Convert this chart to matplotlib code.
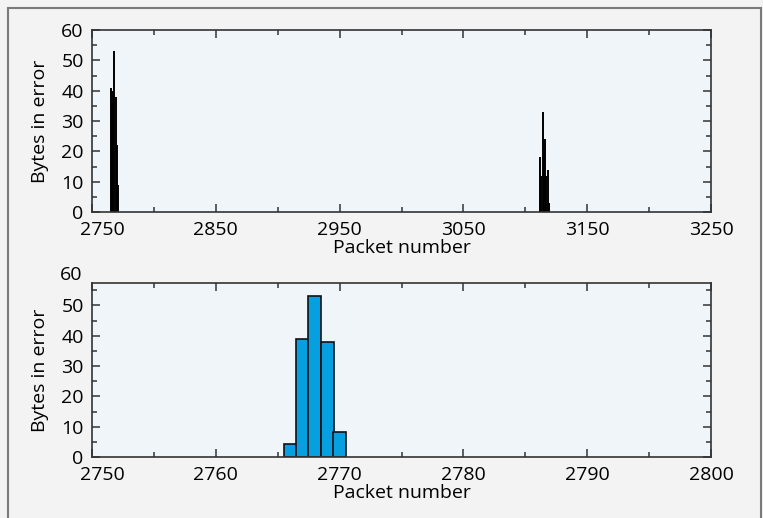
import matplotlib.pyplot as plt
from matplotlib.patches import Rectangle
from matplotlib.ticker import MultipleLocator
import matplotlib.transforms as mtransforms

plt.rcParams['font.family'] = ['Open Sans', 'DejaVu Sans']
plt.rcParams['font.size'] = 14

# top panel: bytes in error per packet (two error bursts)
burst_packets = [2765, 2766, 2767, 2768, 2769, 2770, 2771,
                 3112, 3113, 3114, 3115, 3116, 3117, 3118, 3119]
burst_bytes = [41, 36, 40, 53, 38, 22, 9,
               18, 12, 33, 20, 24, 12, 14, 3]

# bottom panel: close-up of the first burst
zoom_packets = [2766, 2767, 2768, 2769, 2770]
zoom_bytes = [4.3, 39, 53, 38, 8.3]

top_xticks = [2750, 2850, 2950, 3050, 3150, 3250]
bottom_xticks = [2750, 2760, 2770, 2780, 2790, 2800]
yticks = [0, 10, 20, 30, 40, 50, 60]

W, H = 763, 518
fig = plt.figure(figsize=(W / 100, H / 100), dpi=100)
fig.patch.set_facecolor('#f3f3f3')

# outer frame
fig.patches.append(Rectangle((8 / W, -0.05), (761 - 8) / W, 1.05 - 8 / H,
                             transform=fig.transFigure, fill=False,
                             edgecolor='#7a7a7a', linewidth=1.5))

ax_bg = '#f0f5fa'
spine_col = '#333333'


def style_axes(ax):
    ax.set_facecolor(ax_bg)
    for s in ax.spines.values():
        s.set_color(spine_col)
        s.set_linewidth(1.2)
    ax.tick_params(which='both', direction='in', top=True, right=True,
                   color=spine_col, width=1.1, labelsize=14)
    ax.tick_params(which='major', length=5.5, pad=6)
    ax.tick_params(which='minor', length=3.3)
    ax.tick_params(axis='x', which='major', pad=6.5)
    ax.set_xlabel('Packet number', fontsize=14, labelpad=0)
    ax.set_ylabel('Bytes in error', fontsize=14, labelpad=9)


def nudge_first_xlabel(ax):
    # the first x label sits a little right of its tick, clear of the "0"
    lbl = ax.get_xticklabels()[0]
    off = mtransforms.ScaledTranslation(10 / 100, 0, fig.dpi_scale_trans)
    lbl.set_transform(lbl.get_transform() + off)


# top panel
ax1 = fig.add_axes([92 / W, 1 - 212 / H, (711 - 92) / W, (212 - 30) / H])
style_axes(ax1)
ax1.vlines(burst_packets, 0, burst_bytes, color='black', linewidth=1.4)
ax1.set_xlim(2750, 3250)
ax1.set_ylim(0, 60)
ax1.set_xticks(top_xticks)
ax1.xaxis.set_minor_locator(MultipleLocator(50))
ax1.set_yticks(yticks)
ax1.yaxis.set_minor_locator(MultipleLocator(5))
nudge_first_xlabel(ax1)

# bottom panel (frame top is cut at ~57.4, the "60" label sits above it)
ax2 = fig.add_axes([92 / W, 1 - 457 / H, (711 - 92) / W, (457 - 283) / H])
style_axes(ax2)
ax2.bar(zoom_packets, zoom_bytes, width=1.05, color='#069fe0',
        edgecolor='#111111', linewidth=1.2, zorder=2)
ax2.set_xlim(2750, 2800)
ax2.set_ylim(0, 57.4)
ax2.set_xticks(bottom_xticks)
ax2.xaxis.set_minor_locator(MultipleLocator(5))
ax2.set_yticks(yticks[:-1])
ax2.yaxis.set_minor_locator(MultipleLocator(5))
nudge_first_xlabel(ax2)
trans = mtransforms.blended_transform_factory(ax2.transAxes, ax2.transData)
ax2.text(-10 / (711 - 92), yticks[-1], str(yticks[-1]), transform=trans,
         ha='right', va='center', fontsize=14, clip_on=False)

fig.savefig('out.png', dpi=100, facecolor=fig.get_facecolor())
